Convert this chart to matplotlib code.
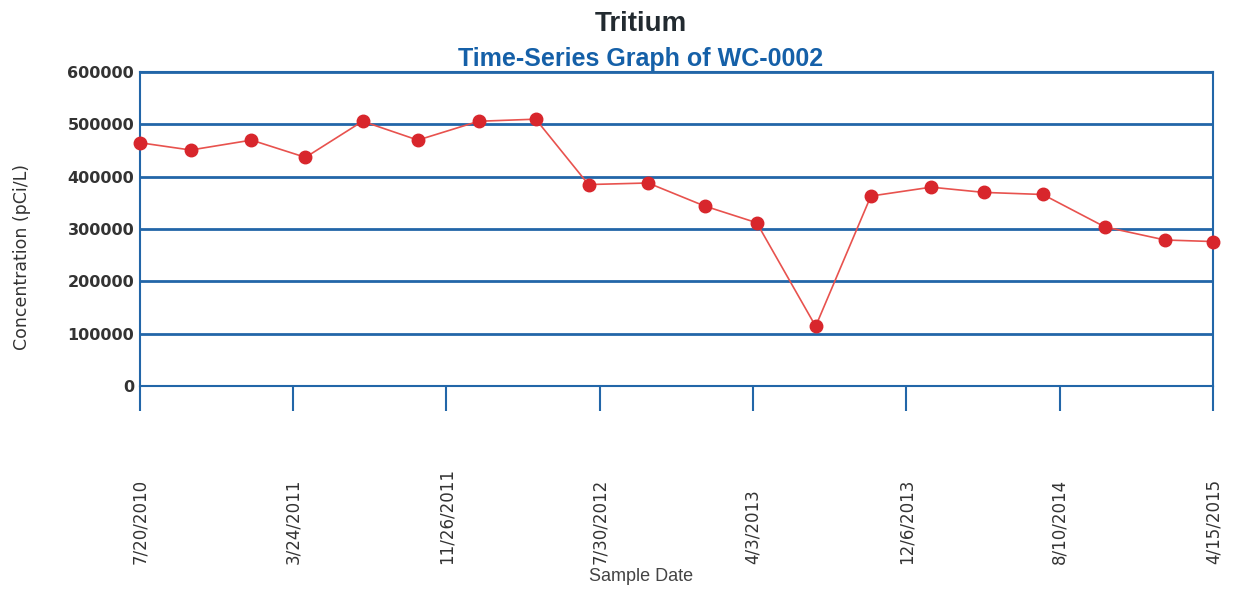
import numpy as np
import pandas as pd
import matplotlib
matplotlib.use("Agg")
import matplotlib.pyplot as plt
import matplotlib.transforms as mtransforms

plt.rcParams["font.family"] = ["Liberation Sans", "DejaVu Sans"]

# ── data ──────────────────────────────────────────────────────────────────────
sample_dates = [
    "2010-07-20", "2010-10-10", "2011-01-16", "2011-04-13", "2011-07-14",
    "2011-10-11", "2012-01-17", "2012-04-18", "2012-07-12", "2012-10-16",
    "2013-01-15", "2013-04-09", "2013-07-13", "2013-10-10", "2014-01-15",
    "2014-04-10", "2014-07-14", "2014-10-22", "2015-01-27", "2015-04-15",
]
concentration = [
    465000, 451000, 470000, 437000, 506000,
    470000, 506000, 510000, 385000, 388000,
    344000, 312000, 114000, 363000, 380000,
    370000, 366000, 304000, 279000, 276000,
]
tick_dates = ["2010-07-20", "2011-03-24", "2011-11-26", "2012-07-30",
              "2013-04-03", "2013-12-06", "2014-08-10", "2015-04-15"]
tick_labels = ["7/20/2010", "3/24/2011", "11/26/2011", "7/30/2012",
               "4/3/2013", "12/6/2013", "8/10/2014", "4/15/2015"]
y_ticks = [0, 100000, 200000, 300000, 400000, 500000, 600000]

BLUE = "#2266a8"
RED = "#d8262c"
WIDE = ["DejaVu Sans"]

x = pd.to_datetime(sample_dates)
xt = pd.to_datetime(tick_dates)

fig = plt.figure(figsize=(12.37, 5.91), dpi=100)
ax = fig.add_axes([0.113, 0.347, 0.868, 0.531])

for yv in y_ticks:
    ax.axhline(yv, color=BLUE, lw=2.0, zorder=1)

ax.plot(x, concentration, color="#e8524e", lw=1.2, zorder=3, clip_on=False)
ax.plot(x, concentration, "o", ms=9, color=RED, mec=RED, zorder=4, clip_on=False)

ax.set_xlim(xt[0], xt[-1])
ax.set_ylim(0, 600000)
ax.set_yticks(y_ticks)
ax.set_yticklabels([str(v) for v in y_ticks], fontsize=11.5, fontweight="bold",
                   color="#333333", family=WIDE)
ax.tick_params(axis="y", length=0, pad=4)
ax.set_xticks(xt)
ax.set_xticklabels([])
ax.tick_params(axis="x", direction="out", length=18, width=1.5, color=BLUE)

for side in ["left", "right", "top", "bottom"]:
    ax.spines[side].set_color(BLUE)
    ax.spines[side].set_linewidth(1.5)

# rotated date labels, bottom-aligned
trans = mtransforms.blended_transform_factory(ax.transData, fig.transFigure)
for d, lab in zip(xt, tick_labels):
    ax.text(d, 0.045, lab, transform=trans, rotation=90, ha="center",
            va="bottom", fontsize=12, color="#333333", family=WIDE,
            clip_on=False)

fig.text(0.518, 0.024, "Sample Date", ha="center", va="center", fontsize=13,
         color="#444444")
fig.text(0.018, 0.565, "Concentration (pCi/L)", rotation=90, ha="center",
         va="center", fontsize=12.5, color="#333333", family=WIDE)

fig.text(0.518, 0.960, "Tritium", ha="center", va="center", fontsize=20,
         fontweight="bold", color="#222a30")
fig.text(0.518, 0.900, "Time-Series Graph of WC-0002", ha="center",
         va="center", fontsize=18, fontweight="bold", color="#1560a8")

fig.savefig("out.png", dpi=100)
